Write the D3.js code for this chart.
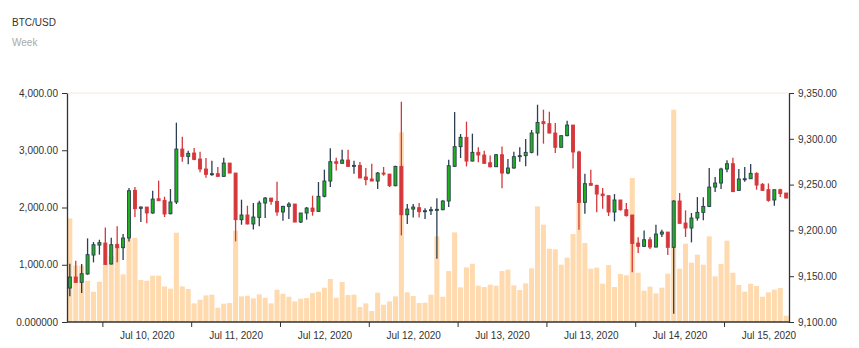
<!DOCTYPE html>
<html>
<head>
<meta charset="utf-8">
<script src="https://cdn.jsdelivr.net/npm/d3@7"></script>
<style>
  html, body { margin: 0; padding: 0; background: #fff; }
  svg { display: block; font-family: "Liberation Sans", Arial, sans-serif; }
  .axis text { font-size: 10px; fill: #333; }
  .axis path, .axis line { stroke: #333; }
</style>
</head>
<body>
<script>
// BTC/USD hourly candles with traded volume
const priceOpen = [
  9137.1, 9149.1, 9143.3, 9152.4, 9173.1, 9184.0, 9186.2, 9163.3, 9184.8, 9181.1,
  9191.7, 9243.7, 9224.1, 9225.5, 9219.0, 9234.6, 9232.8, 9218.2, 9231.0, 9288.8,
  9280.8, 9284.5, 9277.9, 9267.0, 9261.2, 9261.9, 9259.0, 9273.5, 9262.6, 9211.7,
  9216.8, 9207.0, 9214.2, 9229.9, 9235.3, 9231.7, 9220.1, 9226.2, 9228.8, 9209.1,
  9219.0, 9224.4, 9220.8, 9237.2, 9253.9, 9275.0, 9273.2, 9276.8, 9269.9, 9271.0,
  9258.3, 9256.1, 9253.9, 9262.6, 9261.5, 9248.8, 9269.9, 9217.1, 9223.3, 9224.8,
  9220.4, 9221.5, 9222.2, 9222.6, 9232.1, 9269.9, 9291.4, 9301.6, 9275.7, 9285.2,
  9282.3, 9273.9, 9269.5, 9282.6, 9262.6, 9268.1, 9280.5, 9281.6, 9285.2, 9306.3,
  9318.7, 9316.5, 9306.3, 9290.7, 9303.4, 9315.0, 9285.6, 9230.6, 9251.3, 9249.2,
  9239.7, 9237.9, 9220.1, 9233.2, 9222.6, 9216.8, 9186.2, 9182.6, 9189.8, 9181.8,
  9196.0, 9198.2, 9181.5, 9232.1, 9208.0, 9202.6, 9213.5, 9219.7, 9226.2, 9247.3,
  9251.7, 9267.0, 9272.8, 9243.7, 9255.4, 9256.4, 9262.3, 9250.3, 9244.4, 9233.2,
  9244.4, 9240.8
];
const priceClose = [
  9149.1, 9143.3, 9152.7, 9173.5, 9184.4, 9186.6, 9162.9, 9184.4, 9181.1, 9191.7,
  9243.3, 9223.7, 9225.5, 9219.0, 9234.2, 9232.4, 9217.9, 9231.0, 9288.8, 9280.8,
  9284.1, 9277.5, 9267.0, 9261.2, 9261.9, 9259.0, 9273.5, 9262.6, 9211.7, 9216.8,
  9207.0, 9214.6, 9229.9, 9235.3, 9231.7, 9220.1, 9226.2, 9228.8, 9209.1, 9219.0,
  9224.4, 9220.8, 9237.2, 9253.9, 9275.0, 9273.2, 9276.8, 9269.9, 9271.0, 9257.2,
  9255.4, 9253.9, 9262.6, 9261.5, 9248.8, 9269.9, 9217.1, 9223.3, 9225.5, 9220.4,
  9221.5, 9222.6, 9223.0, 9232.1, 9270.6, 9291.4, 9301.6, 9275.7, 9285.2, 9282.3,
  9273.2, 9269.5, 9282.6, 9262.6, 9268.1, 9280.5, 9281.6, 9285.2, 9306.3, 9317.9,
  9316.5, 9306.3, 9290.7, 9303.4, 9315.0, 9285.6, 9230.6, 9251.0, 9249.2, 9239.7,
  9237.9, 9220.1, 9233.2, 9222.6, 9216.1, 9185.8, 9182.6, 9189.8, 9181.8, 9196.0,
  9198.2, 9181.5, 9232.1, 9207.7, 9202.6, 9213.5, 9219.7, 9226.2, 9247.3, 9251.7,
  9267.0, 9272.8, 9242.3, 9256.1, 9256.4, 9262.3, 9249.5, 9243.7, 9232.8, 9244.4,
  9240.1, 9235.3
];
const priceHigh = [
  9163.6, 9166.9, 9163.3, 9191.3, 9187.3, 9189.8, 9203.3, 9192.0, 9204.4, 9196.0,
  9246.3, 9247.3, 9226.2, 9225.5, 9243.3, 9254.3, 9236.8, 9245.2, 9317.6, 9302.3,
  9287.0, 9289.9, 9285.9, 9279.0, 9276.1, 9269.2, 9279.4, 9273.5, 9262.6, 9233.5,
  9227.0, 9229.9, 9232.4, 9236.4, 9235.3, 9253.2, 9227.0, 9230.6, 9228.8, 9219.0,
  9225.5, 9237.9, 9252.8, 9266.3, 9289.6, 9279.4, 9288.1, 9288.1, 9276.1, 9274.6,
  9268.1, 9272.8, 9263.7, 9269.2, 9261.5, 9270.6, 9340.5, 9228.8, 9228.8, 9229.9,
  9224.1, 9225.9, 9235.0, 9232.8, 9277.2, 9329.2, 9305.2, 9318.7, 9305.6, 9290.7,
  9287.0, 9281.9, 9283.4, 9291.7, 9277.9, 9285.9, 9290.7, 9299.7, 9309.6, 9337.2,
  9331.8, 9329.6, 9317.2, 9303.4, 9319.8, 9315.0, 9287.0, 9261.9, 9266.3, 9249.9,
  9246.3, 9237.9, 9239.7, 9233.2, 9229.9, 9216.8, 9192.4, 9200.0, 9192.8, 9206.2,
  9200.8, 9198.2, 9232.8, 9240.8, 9221.9, 9219.0, 9236.4, 9236.1, 9268.1, 9258.3,
  9268.5, 9276.5, 9279.4, 9267.0, 9269.2, 9272.5, 9263.4, 9251.7, 9251.3, 9244.4,
  9245.5, 9240.8
];
const priceLow = [
  9128.0, 9142.5, 9131.6, 9151.6, 9165.1, 9173.5, 9162.9, 9162.9, 9165.1, 9167.6,
  9188.0, 9214.6, 9209.1, 9207.7, 9218.2, 9232.4, 9214.6, 9217.5, 9228.8, 9275.0,
  9272.1, 9276.5, 9263.4, 9257.5, 9259.7, 9258.6, 9258.6, 9262.6, 9188.0, 9206.2,
  9206.6, 9201.1, 9204.4, 9213.5, 9228.1, 9216.1, 9210.6, 9212.4, 9209.1, 9208.0,
  9211.7, 9216.1, 9220.4, 9236.1, 9247.3, 9265.5, 9273.2, 9269.2, 9261.9, 9257.2,
  9249.2, 9253.9, 9245.2, 9259.7, 9247.3, 9248.1, 9194.6, 9207.0, 9214.2, 9214.2,
  9212.4, 9216.8, 9169.1, 9221.9, 9225.5, 9269.2, 9279.0, 9269.9, 9275.4, 9274.3,
  9272.8, 9268.8, 9269.2, 9245.9, 9261.2, 9267.4, 9275.0, 9269.9, 9284.1, 9281.6,
  9294.7, 9305.9, 9284.5, 9290.7, 9302.7, 9267.7, 9200.8, 9218.2, 9249.2, 9219.7,
  9223.7, 9215.7, 9209.9, 9221.5, 9215.3, 9154.2, 9175.3, 9181.8, 9179.7, 9181.5,
  9192.8, 9173.1, 9109.1, 9207.7, 9192.8, 9186.9, 9210.6, 9211.0, 9225.5, 9241.9,
  9245.2, 9263.4, 9241.9, 9243.3, 9253.2, 9256.1, 9244.4, 9243.3, 9231.3, 9227.0,
  9236.4, 9235.3
];
const volume = [
  1810, 989, 983, 721, 529, 704, 1012, 1158, 1333, 832,
  1455, 1472, 733, 721, 809, 809, 622, 582, 1560, 622,
  576, 325, 389, 465, 477, 250, 320, 331, 1595, 448,
  459, 413, 483, 424, 325, 564, 494, 442, 360, 407,
  419, 506, 529, 599, 751, 424, 698, 471, 477, 261,
  325, 192, 512, 302, 360, 448, 3312, 518, 454, 331,
  337, 477, 1496, 442, 890, 1566, 605, 954, 1018, 634,
  611, 652, 634, 890, 914, 640, 558, 675, 937, 2020,
  1700, 1280, 1269, 1001, 1123, 1537, 2136, 1380, 931, 949,
  669, 995, 611, 838, 815, 2515, 861, 547, 617, 500,
  599, 844, 3708, 931, 1368, 1036, 1176, 1001, 1496, 797,
  1013, 1420, 861, 646, 530, 669, 629, 442, 518, 565,
  594, 110
];

// Axis ticks
const volumeTicks = [0, 1000, 2000, 3000, 4000];
const volumeTickLabels = ["0.000000", "1,000.00", "2,000.00", "3,000.00", "4,000.00"];
const priceTicks = [9100, 9150, 9200, 9250, 9300, 9350];
const priceTickLabels = ["9,100.00", "9,150.00", "9,200.00", "9,250.00", "9,300.00", "9,350.00"];
const dateTickSlots = [6, 21, 36, 51, 66, 81, 96, 111];
const dateLabels = ["Jul 10, 2020", "Jul 11, 2020", "Jul 12, 2020", "Jul 12, 2020",
                    "Jul 13, 2020", "Jul 13, 2020", "Jul 14, 2020", "Jul 15, 2020"];

const W = 859, H = 348;
const plot = { left: 67, right: 789, top: 93, bottom: 322 };
const n = volume.length;

const svg = d3.select("body").append("svg")
  .attr("width", W).attr("height", H);

svg.append("text").attr("x", 12).attr("y", 26)
  .attr("font-size", 10).attr("fill", "#333").text("BTC/USD");
svg.append("text").attr("x", 12).attr("y", 46)
  .attr("font-size", 10).attr("fill", "#aaa").text("Week");

const x = d3.scaleBand().domain(d3.range(n))
  .range([plot.left, plot.right]).paddingInner(0.15).paddingOuter(0.05);
const step = x.step();
const slotStart = x(0) - step * x.paddingInner() / 2;
// slot boundary -> pixel, for ticks that sit between bars
const xSlot = d3.scaleLinear().domain([0, n]).range([slotStart, slotStart + n * step]);

const yVol = d3.scaleLinear().domain([0, 4000]).range([plot.bottom, plot.top]);
const yPrice = d3.scaleLinear().domain([9100, 9350]).range([plot.bottom, plot.top]);

// faint top border of the plot
svg.append("line")
  .attr("x1", plot.left).attr("x2", plot.right)
  .attr("y1", plot.top).attr("y2", plot.top)
  .attr("stroke", "#fcefe3").attr("stroke-width", 1.6);

// volume columns
svg.append("g").selectAll("rect").data(volume).join("rect")
  .attr("x", (d, i) => x(i))
  .attr("width", x.bandwidth())
  .attr("y", d => yVol(d))
  .attr("height", d => yVol(0) - yVol(d))
  .attr("fill", "#ffdaae");

// candles
const candles = d3.range(n).map(i => ({
  i, o: priceOpen[i], c: priceClose[i], h: priceHigh[i], l: priceLow[i]
}));
const upFill = "#1fb21f", upStroke = "#2c3e50";
const downFill = "#d6373b", downStroke = "#d6373b";
const bodyW = 3;

const cg = svg.append("g").selectAll("g").data(candles).join("g");
cg.append("line")
  .attr("x1", d => x(d.i) + x.bandwidth() / 2)
  .attr("x2", d => x(d.i) + x.bandwidth() / 2)
  .attr("y1", d => yPrice(d.h))
  .attr("y2", d => yPrice(d.l))
  .attr("stroke", d => d.c >= d.o ? upStroke : downStroke)
  .attr("stroke-width", 1.3);
cg.append("rect")
  .attr("x", d => x(d.i) + x.bandwidth() / 2 - bodyW / 2)
  .attr("width", bodyW)
  .attr("y", d => yPrice(Math.max(d.o, d.c)))
  .attr("height", d => Math.max(1, Math.abs(yPrice(d.o) - yPrice(d.c))))
  .attr("fill", d => d.c >= d.o ? upFill : downFill)
  .attr("stroke", d => d.c >= d.o ? upStroke : downStroke)
  .attr("stroke-width", 0.9);

// left volume axis
const gl = svg.append("g").attr("class", "axis")
  .attr("transform", `translate(${plot.left},0)`)
  .call(d3.axisLeft(yVol).tickValues(volumeTicks)
    .tickFormat((d, i) => volumeTickLabels[i]).tickSize(5).tickSizeOuter(0).tickPadding(4));

// right price axis
const gr = svg.append("g").attr("class", "axis")
  .attr("transform", `translate(${plot.right},0)`)
  .call(d3.axisRight(yPrice).tickValues(priceTicks)
    .tickFormat((d, i) => priceTickLabels[i]).tickSize(5).tickSizeOuter(0).tickPadding(4));

// bottom date axis: tick marks on slot boundaries, labels centred between them
const gb = svg.append("g").attr("class", "axis")
  .attr("transform", `translate(0,${plot.bottom})`)
  .call(d3.axisBottom(xSlot).tickValues(dateTickSlots)
    .tickFormat("").tickSize(5).tickSizeOuter(0));
gb.select(".domain").attr("d", `M${plot.left},0H${plot.right}`);

const gbl = svg.append("g").attr("class", "axis")
  .attr("transform", `translate(0,${plot.bottom})`)
  .call(d3.axisBottom(xSlot).tickValues(dateTickSlots.map(s => s + 7.5))
    .tickFormat((d, i) => dateLabels[i]).tickSize(0).tickPadding(10));
gbl.select(".domain").remove();

svg.selectAll(".axis .domain").attr("stroke-width", 1.3);
</script>
</body>
</html>
